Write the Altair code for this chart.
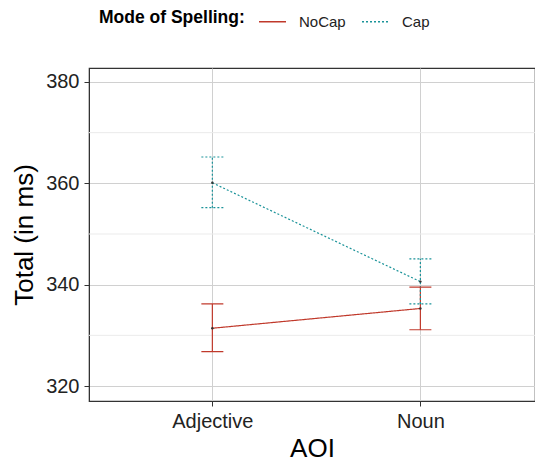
import altair as alt
import pandas as pd

# Fixation totals by area of interest and mode of spelling
aoi_labels = ["Adjective", "Noun"]
aoi_pos = [1, 2, 1, 2]
mode = ["NoCap", "NoCap", "Cap", "Cap"]
mean_ms = [331.4, 335.3, 360.1, 340.6]
lo_ms = [326.8, 331.1, 355.2, 336.2]
hi_ms = [336.2, 339.5, 365.2, 345.1]

major_y = [320, 340, 360, 380]
minor_y = [330, 350, 370]

modes = ["NoCap", "Cap"]
colors = ["#c0392b", "#1b9399"]
dashes = [[1, 0], [2, 2]]

df = pd.DataFrame({"pos": aoi_pos, "Mode": mode, "mean": mean_ms, "lo": lo_ms, "hi": hi_ms})
minor_df = pd.DataFrame({"v": minor_y})

label_expr = "datum.value == 1 ? '%s' : '%s'" % (aoi_labels[0], aoi_labels[1])

x_enc = alt.X(
    "pos:Q",
    scale=alt.Scale(domain=[0.407, 2.551], nice=False, zero=False),
    axis=alt.Axis(values=[1, 2], labelExpr=label_expr, title="AOI",
                  grid=True, gridColor="#d0d0d0", gridWidth=1),
)
y_scale = alt.Scale(domain=[317.04, 382.76], nice=False, zero=False)

color_enc = alt.Color("Mode:N", scale=alt.Scale(domain=modes, range=colors),
                      legend=alt.Legend(title="Mode of Spelling:"))
dash_enc = alt.StrokeDash("Mode:N", scale=alt.Scale(domain=modes, range=dashes),
                          legend=alt.Legend(title="Mode of Spelling:"))

minor = alt.Chart(minor_df).mark_rule(color="#ebebeb", strokeWidth=1).encode(
    y=alt.Y("v:Q", scale=y_scale)
)

base = alt.Chart(df)

lines = base.mark_line(strokeWidth=1.2).encode(
    x=x_enc,
    y=alt.Y("mean:Q", scale=y_scale,
            axis=alt.Axis(values=major_y, title="Total (in ms)",
                          grid=True, gridColor="#d0d0d0")),
    color=color_enc,
    strokeDash=dash_enc,
)

bars = base.mark_rule(strokeWidth=1.2).encode(
    x="pos:Q", y="lo:Q", y2="hi:Q", color=color_enc, strokeDash=dash_enc
)

cap_lo = base.mark_rule(strokeWidth=1.2, xOffset=-11, x2Offset=11).encode(
    x="pos:Q", x2="pos:Q", y="lo:Q", color=color_enc, strokeDash=dash_enc
)
cap_hi = base.mark_rule(strokeWidth=1.2, xOffset=-11, x2Offset=11).encode(
    x="pos:Q", x2="pos:Q", y="hi:Q", color=color_enc, strokeDash=dash_enc
)

pts = base.mark_point(filled=True, size=6, opacity=1, color="#333333").encode(
    x="pos:Q", y="mean:Q"
)

chart = alt.layer(minor, lines, bars, cap_lo, cap_hi, pts).properties(
    width=446,
    height=333,
    autosize=alt.AutoSizeParams(type="none"),
    padding={"left": 89, "top": 68, "right": 0, "bottom": 60},
).configure_view(
    stroke="#333333", strokeWidth=1.2
).configure_axis(
    labelFont="Liberation Sans", titleFont="Liberation Sans",
    labelFontSize=20, titleFontSize=26, labelColor="#222222", titleColor="#000000",
    titleFontWeight="normal", domainColor="#333333", tickColor="#333333",
    tickSize=5, labelPadding=5, domain=True,
).configure_axisY(
    titlePadding=8,
).configure_axisX(
    titlePadding=4,
).configure_legend(
    orient="none", legendX=10, legendY=-61, direction="horizontal",
    titleOrient="left", titleFont="Liberation Sans", titleFontSize=17.5,
    titleFontWeight="bold", titleColor="#000000", labelFont="Liberation Sans",
    labelFontSize=15, labelColor="#222222", symbolType="stroke",
    symbolSize=729, symbolStrokeWidth=1.5, columnPadding=13, titlePadding=13,
    labelOffset=12,
)

chart.save("out.html", embed_options={"renderer": "svg", "actions": False})
